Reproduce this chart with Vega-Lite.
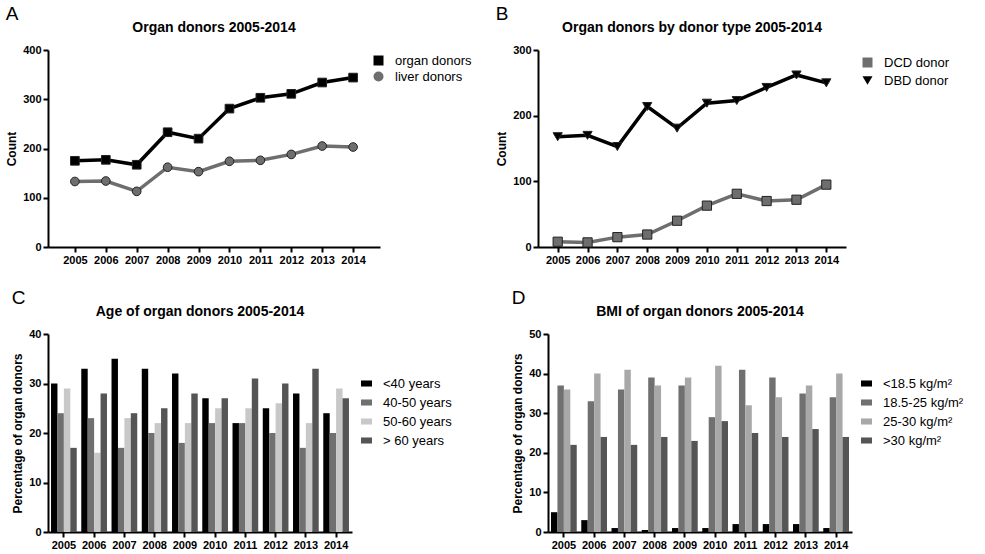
{
  "$schema": "https://vega.github.io/schema/vega-lite/v6.json",
  "padding": 5,
  "background": "white",
  "config": {
    "font": "Liberation Sans",
    "view": {"stroke": null},
    "axis": {
      "grid": false,
      "domainColor": "black",
      "domainWidth": 2,
      "tickColor": "black",
      "tickWidth": 2,
      "tickSize": 5,
      "labelFont": "Liberation Sans",
      "labelFontWeight": "bold",
      "labelFontSize": 11,
      "labelColor": "black",
      "titleFont": "Liberation Sans",
      "titleFontWeight": "bold",
      "titleFontSize": 12,
      "titleColor": "black"
    },
    "legend": {
      "labelFont": "Liberation Sans",
      "labelFontSize": 13,
      "labelColor": "black",
      "title": null
    },
    "title": {"font": "Liberation Sans", "color": "black"}
  },
  "datasets": {
    "a": [
      {"year": "2005", "series": "organ donors", "count": 175},
      {"year": "2006", "series": "organ donors", "count": 177},
      {"year": "2007", "series": "organ donors", "count": 167},
      {"year": "2008", "series": "organ donors", "count": 233},
      {"year": "2009", "series": "organ donors", "count": 220},
      {"year": "2010", "series": "organ donors", "count": 281},
      {"year": "2011", "series": "organ donors", "count": 303},
      {"year": "2012", "series": "organ donors", "count": 311},
      {"year": "2013", "series": "organ donors", "count": 334},
      {"year": "2014", "series": "organ donors", "count": 344},
      {"year": "2005", "series": "liver donors", "count": 133},
      {"year": "2006", "series": "liver donors", "count": 134},
      {"year": "2007", "series": "liver donors", "count": 113},
      {"year": "2008", "series": "liver donors", "count": 162},
      {"year": "2009", "series": "liver donors", "count": 153},
      {"year": "2010", "series": "liver donors", "count": 174},
      {"year": "2011", "series": "liver donors", "count": 176},
      {"year": "2012", "series": "liver donors", "count": 188},
      {"year": "2013", "series": "liver donors", "count": 205},
      {"year": "2014", "series": "liver donors", "count": 203}
    ],
    "b": [
      {"year": "2005", "series": "DCD donor", "count": 8},
      {"year": "2006", "series": "DCD donor", "count": 7},
      {"year": "2007", "series": "DCD donor", "count": 15},
      {"year": "2008", "series": "DCD donor", "count": 19},
      {"year": "2009", "series": "DCD donor", "count": 40},
      {"year": "2010", "series": "DCD donor", "count": 63},
      {"year": "2011", "series": "DCD donor", "count": 81},
      {"year": "2012", "series": "DCD donor", "count": 70},
      {"year": "2013", "series": "DCD donor", "count": 72},
      {"year": "2014", "series": "DCD donor", "count": 95},
      {"year": "2005", "series": "DBD donor", "count": 168},
      {"year": "2006", "series": "DBD donor", "count": 170},
      {"year": "2007", "series": "DBD donor", "count": 153},
      {"year": "2008", "series": "DBD donor", "count": 214},
      {"year": "2009", "series": "DBD donor", "count": 181},
      {"year": "2010", "series": "DBD donor", "count": 219},
      {"year": "2011", "series": "DBD donor", "count": 223},
      {"year": "2012", "series": "DBD donor", "count": 243},
      {"year": "2013", "series": "DBD donor", "count": 262},
      {"year": "2014", "series": "DBD donor", "count": 250}
    ],
    "c": [
      {"year": "2005", "group": "<40 years", "pct": 30},
      {"year": "2005", "group": "40-50 years", "pct": 24},
      {"year": "2005", "group": "50-60 years", "pct": 29},
      {"year": "2005", "group": "> 60 years", "pct": 17},
      {"year": "2006", "group": "<40 years", "pct": 33},
      {"year": "2006", "group": "40-50 years", "pct": 23},
      {"year": "2006", "group": "50-60 years", "pct": 16},
      {"year": "2006", "group": "> 60 years", "pct": 28},
      {"year": "2007", "group": "<40 years", "pct": 35},
      {"year": "2007", "group": "40-50 years", "pct": 17},
      {"year": "2007", "group": "50-60 years", "pct": 23},
      {"year": "2007", "group": "> 60 years", "pct": 24},
      {"year": "2008", "group": "<40 years", "pct": 33},
      {"year": "2008", "group": "40-50 years", "pct": 20},
      {"year": "2008", "group": "50-60 years", "pct": 22},
      {"year": "2008", "group": "> 60 years", "pct": 25},
      {"year": "2009", "group": "<40 years", "pct": 32},
      {"year": "2009", "group": "40-50 years", "pct": 18},
      {"year": "2009", "group": "50-60 years", "pct": 22},
      {"year": "2009", "group": "> 60 years", "pct": 28},
      {"year": "2010", "group": "<40 years", "pct": 27},
      {"year": "2010", "group": "40-50 years", "pct": 22},
      {"year": "2010", "group": "50-60 years", "pct": 25},
      {"year": "2010", "group": "> 60 years", "pct": 27},
      {"year": "2011", "group": "<40 years", "pct": 22},
      {"year": "2011", "group": "40-50 years", "pct": 22},
      {"year": "2011", "group": "50-60 years", "pct": 25},
      {"year": "2011", "group": "> 60 years", "pct": 31},
      {"year": "2012", "group": "<40 years", "pct": 25},
      {"year": "2012", "group": "40-50 years", "pct": 20},
      {"year": "2012", "group": "50-60 years", "pct": 26},
      {"year": "2012", "group": "> 60 years", "pct": 30},
      {"year": "2013", "group": "<40 years", "pct": 28},
      {"year": "2013", "group": "40-50 years", "pct": 17},
      {"year": "2013", "group": "50-60 years", "pct": 22},
      {"year": "2013", "group": "> 60 years", "pct": 33},
      {"year": "2014", "group": "<40 years", "pct": 24},
      {"year": "2014", "group": "40-50 years", "pct": 20},
      {"year": "2014", "group": "50-60 years", "pct": 29},
      {"year": "2014", "group": "> 60 years", "pct": 27}
    ],
    "d": [
      {"year": "2005", "group": "<18.5 kg/m²", "pct": 5},
      {"year": "2005", "group": "18.5-25 kg/m²", "pct": 37},
      {"year": "2005", "group": "25-30 kg/m²", "pct": 36},
      {"year": "2005", "group": ">30 kg/m²", "pct": 22},
      {"year": "2006", "group": "<18.5 kg/m²", "pct": 3},
      {"year": "2006", "group": "18.5-25 kg/m²", "pct": 33},
      {"year": "2006", "group": "25-30 kg/m²", "pct": 40},
      {"year": "2006", "group": ">30 kg/m²", "pct": 24},
      {"year": "2007", "group": "<18.5 kg/m²", "pct": 1},
      {"year": "2007", "group": "18.5-25 kg/m²", "pct": 36},
      {"year": "2007", "group": "25-30 kg/m²", "pct": 41},
      {"year": "2007", "group": ">30 kg/m²", "pct": 22},
      {"year": "2008", "group": "<18.5 kg/m²", "pct": 0.5},
      {"year": "2008", "group": "18.5-25 kg/m²", "pct": 39},
      {"year": "2008", "group": "25-30 kg/m²", "pct": 37},
      {"year": "2008", "group": ">30 kg/m²", "pct": 24},
      {"year": "2009", "group": "<18.5 kg/m²", "pct": 1},
      {"year": "2009", "group": "18.5-25 kg/m²", "pct": 37},
      {"year": "2009", "group": "25-30 kg/m²", "pct": 39},
      {"year": "2009", "group": ">30 kg/m²", "pct": 23},
      {"year": "2010", "group": "<18.5 kg/m²", "pct": 1},
      {"year": "2010", "group": "18.5-25 kg/m²", "pct": 29},
      {"year": "2010", "group": "25-30 kg/m²", "pct": 42},
      {"year": "2010", "group": ">30 kg/m²", "pct": 28},
      {"year": "2011", "group": "<18.5 kg/m²", "pct": 2},
      {"year": "2011", "group": "18.5-25 kg/m²", "pct": 41},
      {"year": "2011", "group": "25-30 kg/m²", "pct": 32},
      {"year": "2011", "group": ">30 kg/m²", "pct": 25},
      {"year": "2012", "group": "<18.5 kg/m²", "pct": 2},
      {"year": "2012", "group": "18.5-25 kg/m²", "pct": 39},
      {"year": "2012", "group": "25-30 kg/m²", "pct": 34},
      {"year": "2012", "group": ">30 kg/m²", "pct": 24},
      {"year": "2013", "group": "<18.5 kg/m²", "pct": 2},
      {"year": "2013", "group": "18.5-25 kg/m²", "pct": 35},
      {"year": "2013", "group": "25-30 kg/m²", "pct": 37},
      {"year": "2013", "group": ">30 kg/m²", "pct": 26},
      {"year": "2014", "group": "<18.5 kg/m²", "pct": 1},
      {"year": "2014", "group": "18.5-25 kg/m²", "pct": 34},
      {"year": "2014", "group": "25-30 kg/m²", "pct": 40},
      {"year": "2014", "group": ">30 kg/m²", "pct": 24}
    ]
  },
  "spacing": 24,
  "resolve": {"scale": {"x": "independent", "y": "independent", "color": "independent", "shape": "independent", "xOffset": "independent"}, "legend": {"color": "independent", "shape": "independent"}},
  "vconcat": [
    {
      "spacing": 23,
      "resolve": {"scale": {"x": "independent", "y": "independent", "color": "independent", "shape": "independent", "xOffset": "independent"}, "legend": {"color": "independent", "shape": "independent"}},
      "hconcat": [
        {
          "title": {"text": "A", "anchor": "start", "fontSize": 19, "fontWeight": "normal", "offset": -3},
          "vconcat": [
            {
              "title": {"text": "Organ donors 2005-2014", "fontSize": 14, "fontWeight": "bold", "anchor": "middle", "offset": 9},
              "width": 332,
              "height": 197,
              "data": {"name": "a"},
              "encoding": {
                "x": {"field": "year", "type": "ordinal", "scale": {"type": "point", "padding": 0.87}, "axis": {"title": null, "labelAngle": 0}},
                "y": {"field": "count", "type": "quantitative", "scale": {"domain": [0, 400]}, "axis": {"title": "Count", "values": [0, 100, 200, 300, 400]}},
                "color": {
                  "field": "series",
                  "type": "nominal",
                  "scale": {"domain": ["organ donors", "liver donors"], "range": ["#000000", "#6e6e6e"]},
                  "legend": {
                    "orient": "none",
                    "legendX": 324,
                    "legendY": 4,
                    "symbolSize": 100,
                    "symbolStrokeWidth": 0,
                    "rowPadding": 2,
                    "labelOffset": 10,
                    "encode": {"symbols": {
                      "enter": {"shape": [{"test": "datum.value === 'organ donors'", "value": "M-0.9,-0.15H0.9V0.15H-0.9Z M-0.4,-0.4H0.4V0.4H-0.4Z"}, {"value": "M-0.9,-0.15H0.9V0.15H-0.9Z M-0.38,0A0.38,0.38 0 1,1 0.38,0A0.38,0.38 0 1,1 -0.38,0Z"}]},
                      "update": {"shape": [{"test": "datum.value === 'organ donors'", "value": "M-0.9,-0.15H0.9V0.15H-0.9Z M-0.4,-0.4H0.4V0.4H-0.4Z"}, {"value": "M-0.9,-0.15H0.9V0.15H-0.9Z M-0.38,0A0.38,0.38 0 1,1 0.38,0A0.38,0.38 0 1,1 -0.38,0Z"}]}
                    }}
                  }
                }
              },
              "layer": [
                {"mark": {"type": "line", "strokeWidth": 3.5}},
                {
                  "mark": {"type": "point", "filled": true, "size": 75, "opacity": 1, "stroke": "#222222", "strokeWidth": 1},
                  "encoding": {"shape": {"field": "series", "type": "nominal", "scale": {"domain": ["organ donors", "liver donors"], "range": ["square", "circle"]}, "legend": null}}
                }
              ]
            }
          ]
        },
        {
          "title": {"text": "B", "anchor": "start", "fontSize": 19, "fontWeight": "normal", "offset": -3},
          "vconcat": [
            {
              "title": {"text": "Organ donors by donor type 2005-2014", "fontSize": 14, "fontWeight": "bold", "anchor": "middle", "offset": 9},
              "width": 308,
              "height": 197,
              "data": {"name": "b"},
              "encoding": {
                "x": {"field": "year", "type": "ordinal", "scale": {"type": "point", "padding": 0.66}, "axis": {"title": null, "labelAngle": 0}},
                "y": {"field": "count", "type": "quantitative", "scale": {"domain": [0, 300]}, "axis": {"title": "Count", "values": [0, 100, 200, 300]}},
                "color": {
                  "field": "series",
                  "type": "nominal",
                  "scale": {"domain": ["DCD donor", "DBD donor"], "range": ["#6e6e6e", "#000000"]},
                  "legend": {
                    "orient": "none",
                    "legendX": 323,
                    "legendY": 6,
                    "symbolSize": 100,
                    "symbolStrokeWidth": 0,
                    "rowPadding": 4,
                    "labelOffset": 10,
                    "encode": {"symbols": {
                      "enter": {"shape": [{"test": "datum.value === 'DCD donor'", "value": "M-0.9,-0.15H0.9V0.15H-0.9Z M-0.4,-0.4H0.4V0.4H-0.4Z"}, {"value": "M-0.9,-0.15H0.9V0.15H-0.9Z M-0.45,-0.35L0.45,-0.35L0,0.45Z"}]},
                      "update": {"shape": [{"test": "datum.value === 'DCD donor'", "value": "M-0.9,-0.15H0.9V0.15H-0.9Z M-0.4,-0.4H0.4V0.4H-0.4Z"}, {"value": "M-0.9,-0.15H0.9V0.15H-0.9Z M-0.45,-0.35L0.45,-0.35L0,0.45Z"}]}
                    }}
                  }
                }
              },
              "layer": [
                {"mark": {"type": "line", "strokeWidth": 3.5}},
                {
                  "mark": {"type": "point", "filled": true, "size": 85, "opacity": 1, "stroke": "#222222", "strokeWidth": 1},
                  "encoding": {"shape": {"field": "series", "type": "nominal", "scale": {"domain": ["DCD donor", "DBD donor"], "range": ["square", "triangle-down"]}, "legend": null}}
                }
              ]
            }
          ]
        }
      ]
    },
    {
      "spacing": 59,
      "resolve": {"scale": {"x": "independent", "y": "independent", "color": "independent", "shape": "independent", "xOffset": "independent"}, "legend": {"color": "independent", "shape": "independent"}},
      "hconcat": [
        {
          "title": {"text": "C", "anchor": "start", "fontSize": 19, "fontWeight": "normal", "offset": -3},
          "vconcat": [
            {
              "title": {"text": "Age of organ donors 2005-2014", "fontSize": 14, "fontWeight": "bold", "anchor": "middle", "offset": 9},
              "width": 304,
              "height": 198,
              "data": {"name": "c"},
              "mark": {"type": "bar"},
              "encoding": {
                "x": {"field": "year", "type": "nominal", "scale": {"paddingInner": 0.15, "paddingOuter": 0.1}, "axis": {"title": null, "labelAngle": 0}},
                "xOffset": {"field": "group", "type": "nominal", "sort": ["<40 years", "40-50 years", "50-60 years", "> 60 years"]},
                "y": {"field": "pct", "type": "quantitative", "scale": {"domain": [0, 40]}, "axis": {"title": "Percentage of organ donors", "values": [0, 10, 20, 30, 40]}},
                "color": {"field": "group", "type": "nominal", "scale": {"domain": ["<40 years", "40-50 years", "50-60 years", "> 60 years"], "range": ["#000000", "#707070", "#c8c8c8", "#555555"]}, "legend": {"orient": "none", "legendX": 312, "legendY": 43, "symbolType": "M-1,-0.55H1V0.55H-1Z", "symbolSize": 121, "symbolStrokeWidth": 0, "rowPadding": 5, "labelOffset": 10}}
              }
            }
          ]
        },
        {
          "title": {"text": "D", "anchor": "start", "fontSize": 19, "fontWeight": "normal", "offset": -3},
          "vconcat": [
            {
              "title": {"text": "BMI of organ donors 2005-2014", "fontSize": 14, "fontWeight": "bold", "anchor": "middle", "offset": 9},
              "width": 304,
              "height": 198,
              "data": {"name": "d"},
              "mark": {"type": "bar"},
              "encoding": {
                "x": {"field": "year", "type": "nominal", "scale": {"paddingInner": 0.15, "paddingOuter": 0.1}, "axis": {"title": null, "labelAngle": 0}},
                "xOffset": {"field": "group", "type": "nominal", "sort": ["<18.5 kg/m²", "18.5-25 kg/m²", "25-30 kg/m²", ">30 kg/m²"]},
                "y": {"field": "pct", "type": "quantitative", "scale": {"domain": [0, 50]}, "axis": {"title": "Percentage of organ donors", "values": [0, 10, 20, 30, 40, 50]}},
                "color": {"field": "group", "type": "nominal", "scale": {"domain": ["<18.5 kg/m²", "18.5-25 kg/m²", "25-30 kg/m²", ">30 kg/m²"], "range": ["#000000", "#707070", "#a8a8a8", "#555555"]}, "legend": {"orient": "none", "legendX": 312, "legendY": 43, "symbolType": "M-1,-0.55H1V0.55H-1Z", "symbolSize": 121, "symbolStrokeWidth": 0, "rowPadding": 5, "labelOffset": 10}}
              }
            }
          ]
        }
      ]
    }
  ]
}
